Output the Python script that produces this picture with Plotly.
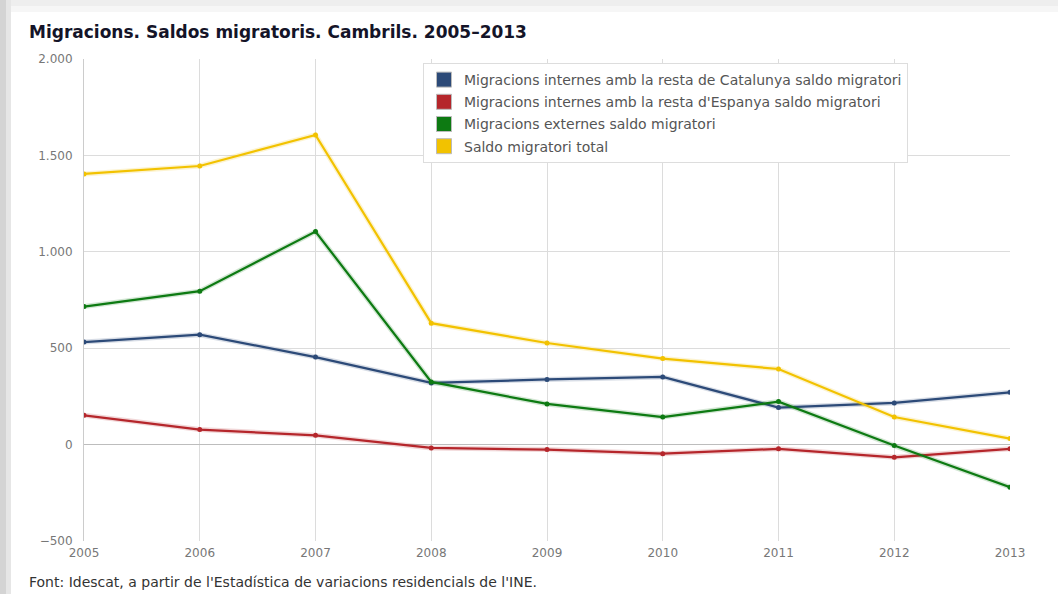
import plotly.graph_objects as go

# Years and series
years = [2005, 2006, 2007, 2008, 2009, 2010, 2011, 2012, 2013]
catalunya = [532, 570, 454, 320, 338, 351, 192, 216, 271]
espanya = [152, 78, 48, -17, -26, -47, -22, -66, -22]
externes = [716, 796, 1105, 325, 211, 143, 223, -5, -221]
total = [1404, 1445, 1606, 630, 527, 446, 392, 143, 31]

series_names = [
    "Migracions internes amb la resta de Catalunya saldo migratori",
    "Migracions internes amb la resta d'Espanya saldo migratori",
    "Migracions externes saldo migratori",
    "Saldo migratori total",
]
colors = ["#2c4a78", "#b5262b", "#0d7a12", "#f2c200"]
y_ticks = [-500, 0, 500, 1000, 1500, 2000]

W, H = 1058, 594
L, R, T, B = 84, 1010, 59, 541


def px(x):
    return (x - L) / (R - L)


def py(y):
    return (B - y) / (B - T)


fig = go.Figure()
for name, vals, col in zip(series_names, [catalunya, espanya, externes, total], colors):
    # soft glow under the line
    fig.add_trace(go.Scatter(
        x=years, y=vals, mode="lines",
        line=dict(color=col, width=5), opacity=0.18,
        showlegend=False, hoverinfo="skip",
    ))
    fig.add_trace(go.Scatter(
        x=years, y=vals, mode="lines+markers",
        line=dict(color=col, width=2.2),
        marker=dict(color=col, size=5),
        name=name, legendgroup=name, showlegend=False,
    ))
    # square swatch for the legend
    fig.add_trace(go.Scatter(
        x=[None], y=[None], mode="markers",
        marker=dict(color=col, size=15, symbol="square",
                    line=dict(color="#bbbbbb", width=1)),
        name=name, legendgroup=name, showlegend=True,
    ))

shapes = [
    # card shadow on the left and top
    dict(type="rect", xref="paper", yref="paper", x0=px(0), x1=px(6), y0=py(H), y1=py(0),
         fillcolor="#d4d4d4", line=dict(width=0), layer="below"),
    dict(type="rect", xref="paper", yref="paper", x0=px(6), x1=px(11), y0=py(H), y1=py(0),
         fillcolor="#e6e6e6", line=dict(width=0), layer="below"),
    dict(type="rect", xref="paper", yref="paper", x0=px(11), x1=px(W), y0=py(6), y1=py(0),
         fillcolor="#eeeeee", line=dict(width=0), layer="below"),
    dict(type="rect", xref="paper", yref="paper", x0=px(11), x1=px(W), y0=py(12), y1=py(6),
         fillcolor="#f6f6f6", line=dict(width=0), layer="below"),
]

fig.update_layout(
    width=W, height=H,
    margin=dict(l=L, r=W - R, t=T, b=H - B, autoexpand=False),
    paper_bgcolor="white", plot_bgcolor="white",
    separators=",.",
    font=dict(family="DejaVu Sans, Verdana, sans-serif", size=12, color="#666666"),
    title=dict(
        text="<b>Migracions. Saldos migratoris. Cambrils. 2005–2013</b>",
        x=29 / W, xanchor="left", y=1 - 32 / H, yanchor="middle",
        font=dict(family="DejaVu Sans, Verdana, sans-serif", size=17, color="#141428"),
    ),
    xaxis=dict(
        range=[2005, 2013], tickvals=years, ticks="", showline=False,
        showgrid=True, gridcolor="#dcdcdc", gridwidth=1, zeroline=False,
        tickfont=dict(size=12, color="#777777"), ticklabelstandoff=3,
    ),
    yaxis=dict(
        range=[-500, 2000], tickvals=y_ticks, tickformat=",d", ticks="",
        showgrid=True, gridcolor="#dcdcdc", gridwidth=1,
        zeroline=True, zerolinecolor="#bdbdbd", zerolinewidth=1,
        tickfont=dict(size=12, color="#777777"), ticklabelstandoff=8,
        showline=True, linecolor="#cccccc", linewidth=1,
    ),
    legend=dict(
        x=px(423), y=py(63), xanchor="left", yanchor="top",
        bgcolor="white", bordercolor="#dddddd", borderwidth=1,
        font=dict(size=14, color="#555555"), itemwidth=30,
        tracegroupgap=1,
    ),
    shapes=shapes,
    annotations=[dict(
        text="Font: Idescat, a partir de l'Estadística de variacions residencials de l'INE.",
        xref="paper", yref="paper", x=px(27), y=py(582),
        xanchor="left", yanchor="middle", showarrow=False,
        font=dict(size=14, color="#333333"),
    )],
    showlegend=True,
)

fig.write_html("out.html", config={"displayModeBar": False},
               post_script="document.body.style.margin='0';")
